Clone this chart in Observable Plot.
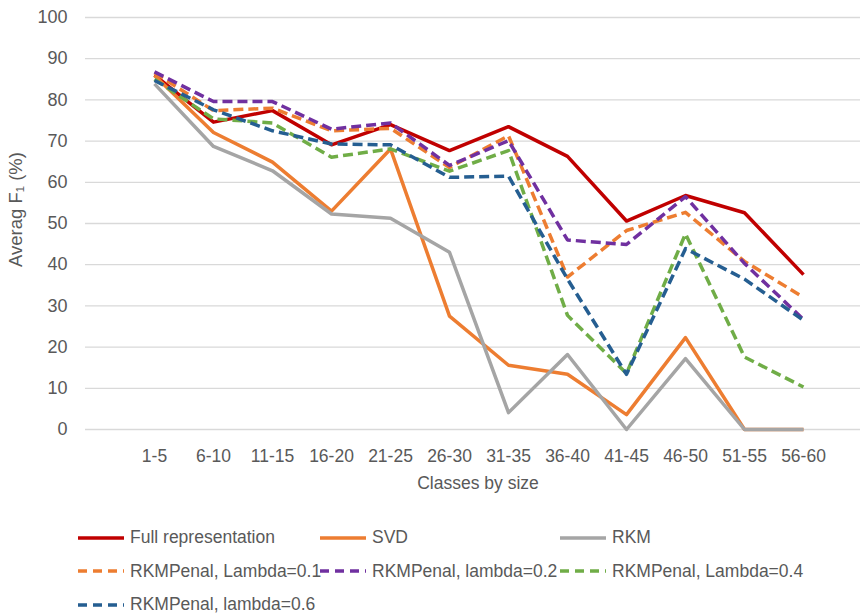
<!DOCTYPE html>
<html><head><meta charset="utf-8">
<script src="https://cdn.jsdelivr.net/npm/d3@7"></script>
<script src="https://cdn.jsdelivr.net/npm/@observablehq/plot@0.6"></script>
<style>
body{margin:0;background:#fff;font-family:"Liberation Sans",Arial,sans-serif;}
#chart svg{display:block;}
#legend{display:grid;grid-template-columns:242px 240px 240px;margin-left:78px;padding-top:11px;grid-auto-rows:33.5px;color:#595959;font-size:17.5px;}
.item{display:flex;align-items:center;white-space:nowrap;}
.item svg{margin-right:6px;flex:none;}
</style></head><body><div id="chart"></div><div id="legend"></div>
<script>
const categories = ["1-5","6-10","11-15","16-20","21-25","26-30","31-35","36-40","41-45","46-50","51-55","56-60"];
const yTicks = [0,10,20,30,40,50,60,70,80,90,100];
const seriesNames = ["Full representation","SVD","RKM","RKMPenal, Lambda=0.1","RKMPenal, lambda=0.2","RKMPenal, Lambda=0.4","RKMPenal, lambda=0.6"];
const fullRep = [86.0,74.6,77.4,69.1,74.0,67.7,73.5,66.3,50.6,56.8,52.6,37.6];
const svd     = [85.9,72.1,64.9,53.0,68.1,27.5,15.6,13.4,3.6,22.3,0,0];
const rkm     = [83.9,68.7,62.8,52.3,51.3,43.0,4.1,18.2,0,17.2,0,0];
const penal01 = [86.6,77.4,78.0,72.5,73.1,63.6,71.3,37.0,48.3,52.7,40.8,32.1];
const penal02 = [86.8,79.6,79.6,72.9,74.4,64.1,70.1,46.0,44.9,56.5,40.3,26.7];
const penal04 = [85.0,75.4,74.4,66.1,68.1,62.7,67.7,27.7,13.6,47.5,17.6,10.3];
const penal06 = [84.7,77.6,72.5,69.3,69.1,61.2,61.5,36.5,13.4,43.9,36.5,26.5];
const seriesValues = [fullRep,svd,rkm,penal01,penal02,penal04,penal06];
const seriesColors = ["#C00000","#ED7D31","#A5A5A5","#ED7D31","#7030A0","#70AD47","#255E91"];
const seriesDashed = [false,false,false,true,true,true,true];

const dash = "10,5";
const lineMarks = seriesNames.map((name, i) => {
  const rows = categories.map((c, j) => ({cat: c, value: seriesValues[i][j], series: name}));
  return Plot.lineY(rows, {
    x: "cat", y: "value",
    stroke: seriesColors[i], strokeWidth: 3.5,
    strokeDasharray: seriesDashed[i] ? dash : null,
    strokeLinejoin: "round", strokeLinecap: "butt"
  });
});

const chart = Plot.plot({
  width: 862, height: 510,
  marginLeft: 85, marginRight: 2, marginTop: 17, marginBottom: 81,
  style: {fontFamily: '"Liberation Sans", Arial, sans-serif', color: "#595959", background: "#fff"},
  x: {type: "point", domain: categories, range: [120, 836], label: null},
  y: {domain: [0, 100], ticks: yTicks, label: null},
  marks: [
    Plot.gridY(yTicks, {stroke: "#D9D9D9", strokeOpacity: 1, strokeWidth: 1.3}),
    Plot.axisY(yTicks, {tickSize: 0, tickPadding: 18, fontSize: 18, label: null}),
    Plot.axisX({tickSize: 0, tickPadding: 20, fontSize: 17.5, label: null}),
    ...lineMarks,
    Plot.text(["Averag F\u2081 (%)"], {frameAnchor: "left", textAnchor: "middle", dx: -69, dy: -14, rotate: -90, fontSize: 18.5, fill: "#595959"}),
    Plot.text(["Classes by size"], {frameAnchor: "bottom", dx: 5, dy: 59, fontSize: 17.5, fill: "#595959"})
  ]
});
document.getElementById("chart").appendChild(chart);

const legend = document.getElementById("legend");
seriesNames.forEach((name, i) => {
  const item = document.createElement("div");
  item.className = "item";
  const sw = d3.create("svg").attr("width", 46).attr("height", 10);
  sw.append("line").attr("x1", 0).attr("x2", 46).attr("y1", 5).attr("y2", 5)
    .attr("stroke", seriesColors[i]).attr("stroke-width", 3.5)
    .attr("stroke-dasharray", seriesDashed[i] ? "9,6" : null);
  item.appendChild(sw.node());
  const t = document.createElement("span");
  t.textContent = name;
  item.appendChild(t);
  legend.appendChild(item);
});
</script></body></html>
